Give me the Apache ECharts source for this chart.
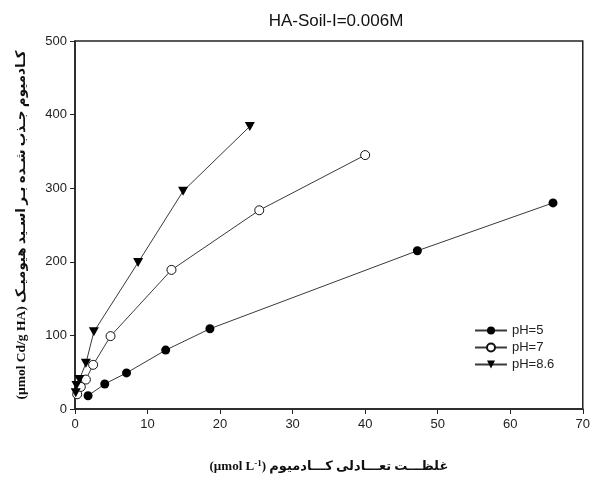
<!DOCTYPE html>
<html>
<head>
<meta charset="utf-8">
<script src="https://cdn.jsdelivr.net/npm/echarts@6/dist/echarts.min.js"></script>
<style>
  html, body { margin: 0; padding: 0; background: #fff; }
  #chart { width: 593px; height: 479px; }
</style>
</head>
<body>
<div id="chart"></div>
<script>
// values: [Ce, q]
const ph5 = [[1.8, 18], [4.1, 34], [7.1, 49], [12.5, 80], [18.6, 109], [47.2, 215], [65.9, 280]];
const ph7 = [[0.3, 20], [0.8, 30], [1.5, 40], [2.5, 60], [4.9, 99], [13.3, 189], [25.4, 270], [40.0, 345]];
const ph86 = [[0.1, 22], [0.2, 32], [0.6, 40], [1.5, 62], [2.6, 105], [8.7, 199], [14.9, 296], [24.1, 384]];
const seriesNames = ['pH=5', 'pH=7', 'pH=8.6'];

const triDown = 'path://M0,0 L10,0 L5,9 Z';

const chart = echarts.init(document.getElementById('chart'));

const option = {
  animation: false,
  backgroundColor: '#fff',
  title: {
    text: 'HA-Soil-I=0.006M',
    left: 331,
    textAlign: 'center',
    top: 8,
    textStyle: { fontFamily: 'Liberation Sans', fontSize: 17, fontWeight: 'normal', color: '#111' }
  },
  legend: {
    orient: 'vertical',
    left: 474,
    top: 324,
    padding: 0,
    itemWidth: 32,
    itemHeight: 10,
    itemGap: 4,
    data: seriesNames,
    textStyle: { fontFamily: 'Liberation Sans', fontSize: 13, color: '#222' }
  },
  grid: {
    left: 75,
    right: 7,
    top: 41,
    bottom: 70,
    show: true,
    borderColor: '#222',
    borderWidth: 1.5
  },
  xAxis: {
    type: 'value',
    min: 0,
    max: 70,
    interval: 10,
    splitLine: { show: false },
    axisLine: { lineStyle: { color: '#222', width: 1.5 } },
    axisTick: { length: 5, lineStyle: { color: '#222' } },
    axisLabel: { fontFamily: 'Liberation Sans', fontSize: 13, color: '#222', margin: 9 },
    name: '{t|(µmol L}{sup|-1}{t|) غلظـــت تعـــادلی کـــادمیوم}',
    nameLocation: 'middle',
    nameGap: 50,
    nameTextStyle: {
      fontFamily: 'Liberation Serif, DejaVu Sans',
      fontWeight: 'bold',
      fontSize: 13,
      color: '#111',
      rich: {
        t: { fontFamily: 'Liberation Serif, DejaVu Sans', fontWeight: 'bold', fontSize: 13, color: '#111' },
        sup: { fontFamily: 'Liberation Serif', fontWeight: 'bold', fontSize: 9, color: '#111', verticalAlign: 'top', padding: [0, 0, 6, 0] }
      }
    }
  },
  yAxis: {
    type: 'value',
    min: 0,
    max: 500,
    interval: 100,
    splitLine: { show: false },
    axisLine: { lineStyle: { color: '#222', width: 1.5 } },
    axisTick: { length: 5, lineStyle: { color: '#222' } },
    axisLabel: { fontFamily: 'Liberation Sans', fontSize: 13, color: '#222', margin: 8 },
    name: '(µmol Cd/g HA) کـادمیوم جـذب شـده بـر اسـید هیومیـک',
    nameLocation: 'middle',
    nameRotate: 90,
    nameGap: 46,
    nameTextStyle: {
      fontFamily: 'Liberation Serif, DejaVu Sans',
      fontWeight: 'bold',
      fontSize: 13.5,
      color: '#111'
    }
  },
  series: [
    {
      name: seriesNames[0],
      type: 'line',
      data: ph5,
      symbol: 'circle',
      symbolSize: 9,
      itemStyle: { color: '#000' },
      lineStyle: { color: '#3a3a3a', width: 1 }
    },
    {
      name: seriesNames[1],
      type: 'line',
      data: ph7,
      symbol: 'circle',
      symbolSize: 9,
      showAllSymbol: true,
      itemStyle: { color: '#fff', borderColor: '#111', borderWidth: 1 },
      lineStyle: { color: '#3a3a3a', width: 1 }
    },
    {
      name: seriesNames[2],
      type: 'line',
      data: ph86,
      symbol: triDown,
      symbolSize: [10, 9],
      showAllSymbol: true,
      itemStyle: { color: '#000' },
      lineStyle: { color: '#3a3a3a', width: 1 }
    }
  ]
};

chart.setOption(option);
</script>
</body>
</html>
